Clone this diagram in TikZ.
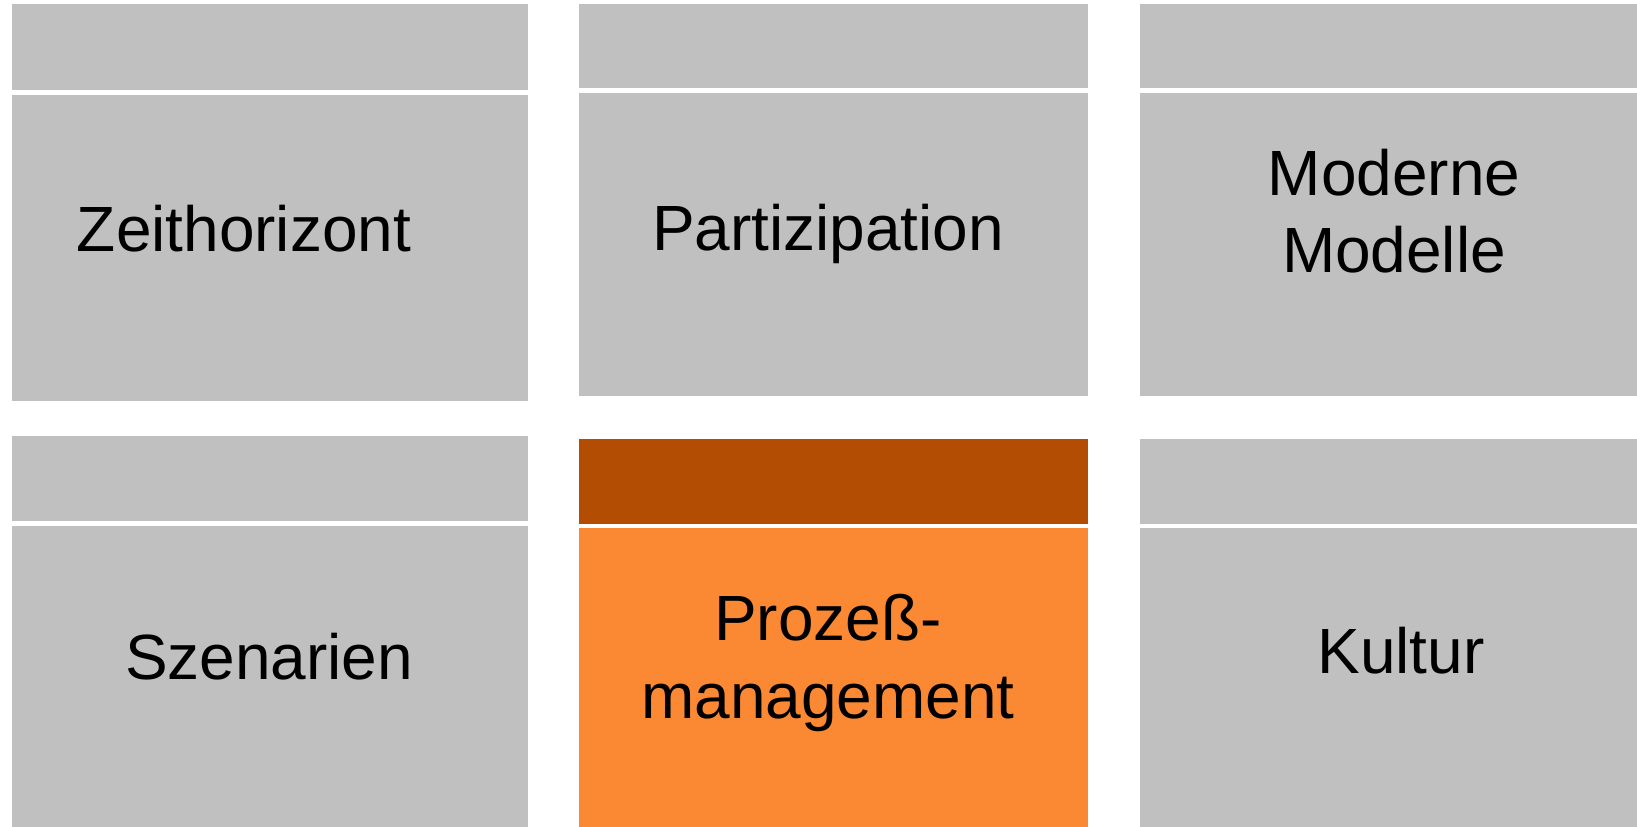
\documentclass[tikz,border=0pt]{standalone}
\usepackage{fontspec}
\setmainfont{Liberation Sans}
\usepackage{tikz}
\definecolor{tilegray}{RGB}{192,192,192}
\definecolor{tilebrown}{RGB}{179,77,3}
\definecolor{tileorange}{RGB}{251,137,51}

\begin{document}
\begin{tikzpicture}[x=0.02cm,y=-0.02cm,
		tile/.style={rectangle,inner sep=0pt,outer sep=0pt,anchor=north west,fill=tilegray},
		word/.style={anchor=base,inner sep=0pt,align=center,font=\fontsize{36.4}{44.1}\selectfont}]
	\useasboundingbox (0,0) rectangle (1637,827);
	% first row
	\node[tile,minimum width=10.32cm,minimum height=1.72cm] (zeithead) at (12,4) {};
	\node[tile,minimum width=10.32cm,minimum height=6.12cm] (zeit) at (12,95) {};
	\node[tile,minimum width=10.18cm,minimum height=1.68cm] (parthead) at (579,4) {};
	\node[tile,minimum width=10.18cm,minimum height=6.06cm] (part) at (579,93) {};
	\node[tile,minimum width=9.94cm,minimum height=1.68cm] (modhead) at (1140,4) {};
	\node[tile,minimum width=9.94cm,minimum height=6.06cm] (mod) at (1140,93) {};
	% second row
	\node[tile,minimum width=10.32cm,minimum height=1.70cm] (szenhead) at (12,436) {};
	\node[tile,minimum width=10.32cm,minimum height=6.02cm] (szen) at (12,526) {};
	\node[tile,fill=tilebrown,minimum width=10.18cm,minimum height=1.70cm] (prozhead) at (579,439) {};
	\node[tile,fill=tileorange,minimum width=10.18cm,minimum height=5.98cm] (proz) at (579,528) {};
	\node[tile,minimum width=9.94cm,minimum height=1.70cm] (kulthead) at (1140,439) {};
	\node[tile,minimum width=9.94cm,minimum height=5.98cm] (kult) at (1140,528) {};
	% labels
	\node[word] (zeittext) at (244,252) {Zeithorizont};
	\node[word] (parttext) at (828,251) {Partizipation};
	\node[word] (modtext) at (1394,273) {Moderne\\Modelle};
	\node[word] (szentext) at (269,679) {Szenarien};
	\node[word] (proztext) at (828,718) {Prozeß-\\management};
	\node[word] (kulttext) at (1401,673) {Kultur};
\end{tikzpicture}
\end{document}
